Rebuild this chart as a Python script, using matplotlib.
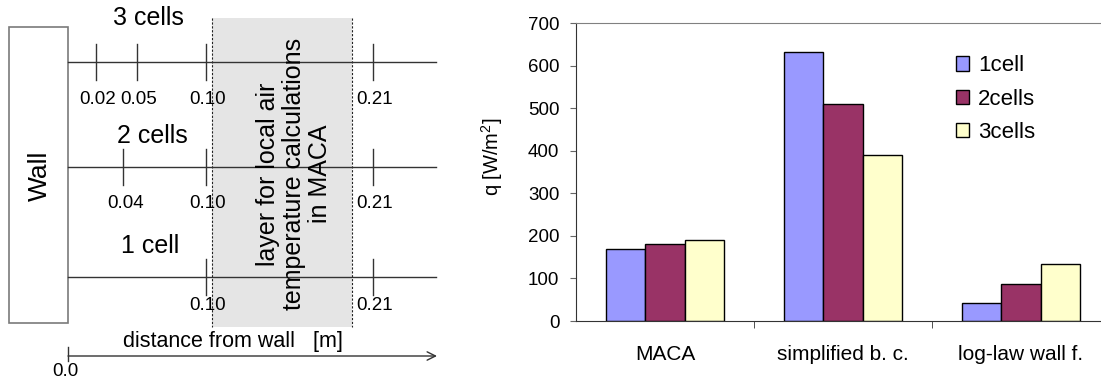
import numpy as np
import matplotlib
matplotlib.use("Agg")
import matplotlib.pyplot as plt
from matplotlib.patches import Rectangle

plt.rcParams['font.family'] = ['Liberation Sans', 'DejaVu Sans']
plt.rcParams['mathtext.fontset'] = 'custom'
plt.rcParams['mathtext.rm'] = 'Liberation Sans'
plt.rcParams['mathtext.it'] = 'Liberation Sans:italic'
plt.rcParams['mathtext.default'] = 'regular'

# ---- wall heat flux per boundary treatment ----
methods = ['MACA', 'simplified b. c.', 'log-law wall f.']
series_names = ['1cell', '2cells', '3cells']
q_1cell = [170, 631, 43]
q_2cells = [181, 509, 86]
q_3cells = [190, 390, 133]
y_ticks = [0, 100, 200, 300, 400, 500, 600, 700]

# ---- near-wall grid layouts (node distances from wall, m) ----
grid_names = ['3 cells', '2 cells', '1 cell']
grid_nodes = [[0.02, 0.05, 0.10, 0.21],
              [0.04, 0.10, 0.21],
              [0.10, 0.21]]

series_colors = ['#9999FF', '#993366', '#FFFFCC']
line_col = '#333333'

fig = plt.figure(figsize=(11.01, 3.81), dpi=100)

# ================= schematic (pixel-like layout coordinates) =================
ax0 = fig.add_axes([0, 0, 450 / 1101, 1])
ax0.set_xlim(0, 450)
ax0.set_ylim(381, 0)
ax0.axis('off')


def sx(d):
    """Schematic (not to scale) position of a distance from the wall."""
    return np.interp(d, [0.0, 0.10, 0.21], [68, 206, 373])


wall_x = sx(0.0)
row_y = [62, 167, 277]
row_label_y = [100, 204, 305]
row_name_pos = [(148, 18), (152, 136), (150, 246)]
line_end = 436

# layer used for local air temperature
ax0.add_patch(Rectangle((212, 18), 140, 309, facecolor='#e5e5e5',
                        edgecolor='none', zorder=0))
for xe in (212, 352):
    ax0.plot([xe, xe], [18, 327], color='#222222', lw=0.8,
             ls=(0, (2.0, 1.5)), zorder=1)
ax0.text(294, 174, 'layer for local air\ntemperature calculations\nin MACA',
         rotation=90, ha='center', va='center', multialignment='center',
         fontsize=18, linespacing=1.08, zorder=3)

# wall block
ax0.add_patch(Rectangle((9, 27), wall_x - 9, 296, facecolor='white',
                        edgecolor='#7a7a7a', lw=1.2, zorder=2))
ax0.text(40, 176, 'Wall', rotation=90, ha='center', va='center', fontsize=19)

# grid rows
for name, nodes, y, ly, npos in zip(grid_names, grid_nodes, row_y,
                                     row_label_y, row_name_pos):
    ax0.plot([wall_x, line_end], [y, y], color=line_col, lw=1.0, zorder=2)
    for d in nodes:
        xp = sx(d)
        ax0.plot([xp, xp], [y - 18, y + 18], color=line_col, lw=1.0, zorder=2)
        ax0.text(xp + 2, ly, f'{d:.2f}', ha='center', va='center',
                 fontsize=13.5, zorder=3)
    ax0.text(npos[0], npos[1], name, ha='center', va='center', fontsize=18)

# distance axis
ax0.annotate('', xy=(437, 356), xytext=(wall_x, 356),
             arrowprops=dict(arrowstyle='->,head_length=0.6,head_width=0.3',
                             color=line_col, lw=1.0, shrinkA=0, shrinkB=0))
ax0.plot([wall_x, wall_x], [347, 361], color=line_col, lw=1.0)
ax0.text(wall_x - 3, 372, f'{0.0:.1f}', ha='center', va='center', fontsize=13.5)
ax0.text(233, 342, 'distance from wall   [m]', ha='center', va='center',
         fontsize=15.5)

# ================= bar chart =================
ax = fig.add_axes([576 / 1101, 60 / 381, 534 / 1101, 298 / 381])
x = np.arange(len(methods))
w = 0.222
for i, (vals, name, col) in enumerate(zip([q_1cell, q_2cells, q_3cells],
                                          series_names, series_colors)):
    ax.bar(x + (i - 1) * w, vals, w, color=col, edgecolor='black',
           lw=1.0, label=name, zorder=2)

ax.set_xlim(-0.5, 2.5)
ax.set_ylim(0, 700)
ax.set_yticks(y_ticks)
ax.set_xticks(x, methods)
ax.set_xticks(x[:-1] + 0.5, minor=True)
ax.tick_params(axis='x', which='major', length=0, pad=17, labelsize=15)
ax.tick_params(axis='x', which='minor', length=5, direction='out',
               color=line_col)
ax.tick_params(axis='y', length=4, direction='out', pad=8, labelsize=13.5,
               color='#666666')
ax.spines['right'].set_visible(False)
ax.spines['top'].set_color('#808080')
ax.spines['left'].set_color(line_col)
ax.spines['bottom'].set_color(line_col)

ax.text(-0.158, 0.55, 'q [W/m$^2$]', rotation=90, ha='center', va='center',
        fontsize=14.5, transform=ax.transAxes)

ax.legend(loc='center left', bbox_to_anchor=(956 / 1101, 282 / 381),
          bbox_transform=fig.transFigure, frameon=False, fontsize=16,
          handlelength=0.6, handleheight=0.6, handletextpad=0.4,
          labelspacing=0.55, borderpad=0, borderaxespad=0)

fig.savefig('out.png', dpi=100)
